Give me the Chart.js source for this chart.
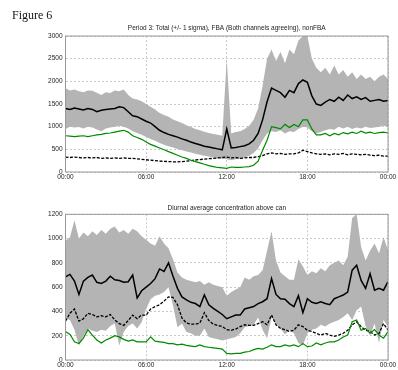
<!DOCTYPE html>
<html>
<head>
<meta charset="utf-8">
<script src="https://cdn.jsdelivr.net/npm/chart.js@4.4.1/dist/chart.umd.min.js"></script>
<style>
  body { margin: 0; background: #fff; }
  #wrap { position: relative; width: 398px; height: 370px; overflow: hidden; }
  #fig { position: absolute; left: 12px; top: 9px; font: 12px/1 "Liberation Serif", "Times New Roman", serif; color: #111; z-index: 2; }
  #c1 { position: absolute; left: 0; top: 0; }
  #c2 { position: absolute; left: 0; top: 190px; }
</style>
</head>
<body>
<div id="wrap">
  <div id="fig">Figure 6</div>
  <canvas id="c1" width="398" height="185"></canvas>
  <canvas id="c2" width="398" height="180"></canvas>
</div>
<script>
// time of day, one point every 20 minutes
const hours = Array.from({ length: 73 }, (_, i) => i / 3);
const hourTicks = ['00:00', '06:00', '12:00', '18:00', '00:00'];

// Period 3 (top panel)
const topTotal = [
  1400, 1380, 1410, 1390, 1370, 1400, 1380, 1330, 1360, 1380, 1390, 1400,
  1440, 1420, 1330, 1240, 1220, 1170, 1120, 1080, 1000, 920, 870, 830,
  800, 770, 730, 700, 660, 630, 600, 570, 550, 530, 510, 490,
  950, 530, 540, 560, 580, 620, 700, 850, 1150, 1550, 1850, 1800,
  1750, 1650, 1800, 1750, 1950, 2030, 1980, 1680, 1500, 1470, 1540, 1600,
  1560, 1650, 1580, 1700, 1620, 1660, 1600, 1640, 1560, 1580, 1600, 1560,
  1580
];
const topHi = [
  1850, 1800, 1820, 1780, 1760, 1800, 1790, 1750, 1700, 1760, 1740, 1800,
  1780, 1820, 1700, 1620, 1600, 1560, 1500, 1440, 1380, 1300, 1260, 1220,
  1160, 1120, 1080, 1030, 990, 950, 920, 890, 860, 840, 820, 800,
  2500, 850, 880, 900, 950, 1020, 1150, 1400, 1900, 2500, 2700, 2450,
  2650, 2400, 2700, 2600, 2900, 3000, 3000, 2500, 2300, 2200, 2300, 2150,
  2350, 2150, 2250, 2100, 2200, 2050, 2150, 2050, 2100, 2000, 2100, 2150,
  2050
];
const topLo = [
  950, 1000, 980, 990, 960, 1000, 980, 940, 900, 960, 980, 1000,
  1020, 1000, 960, 900, 860, 820, 770, 730, 690, 640, 600, 570,
  540, 510, 480, 450, 430, 400, 380, 360, 340, 320, 300, 290,
  280, 260, 280, 300, 320, 360, 420, 520, 700, 850, 900, 880,
  920, 850, 900, 880, 950, 1000, 980, 900, 850, 880, 920, 950,
  930, 1000, 960, 1000, 950, 980, 960, 1000, 970, 980, 1000, 1020,
  1000
];
const topFBA = [
  800, 790, 780, 790, 800, 780, 800, 820, 830, 850, 860, 880,
  900, 920, 880, 800, 760, 720, 660, 610, 570, 530, 490, 450,
  410, 370, 330, 300, 260, 230, 200, 170, 140, 120, 100, 90,
  80, 110, 100, 100, 110, 120, 150, 240, 480, 700, 1000, 980,
  950, 1050, 980, 1050, 1000, 1150, 1150, 950, 820, 820, 850, 800,
  850, 820, 870, 840, 880, 850, 900, 860, 880, 850, 870, 880,
  860
];
const topNon = [
  330, 320, 330, 320, 310, 320, 310, 320, 300, 310, 300, 310,
  300, 310, 300, 300, 290, 280, 270, 260, 250, 240, 235, 230,
  225, 225, 230, 240, 250, 265, 275, 285, 295, 300, 310, 320,
  330, 310, 320, 300, 310, 320, 320, 340, 360, 400, 420, 400,
  410, 390, 400, 400, 420, 480, 450, 420, 400, 390, 400, 380,
  400, 390, 410, 380, 400, 390, 380, 390, 370, 360, 370, 350,
  350
];

// Diurnal average above canopy (bottom panel)
const botTotal = [
  685, 705, 650, 540, 650, 680, 700, 640, 630, 650, 690, 660,
  655, 640, 645, 700, 510, 570, 600, 630, 670, 750, 730, 800,
  690, 590, 520, 495, 475, 465, 440, 535, 455, 425, 400, 375,
  340, 355, 370, 370, 420, 430, 440, 465, 480, 505, 670, 540,
  505, 500, 465, 440, 530, 390, 505, 475, 465, 480, 465, 455,
  505, 520, 535, 560, 740, 780, 655, 590, 710, 575, 590, 575,
  645
];
const botHi = [
  980, 1010, 1150, 1000, 1050, 1020, 1060, 1030, 1070, 1040, 1080, 1100,
  1050, 1070, 1040, 1080, 1060, 1020, 990, 960, 940, 1020, 960, 920,
  830, 720, 680, 660, 650, 640, 650, 620, 640, 620, 610, 600,
  530, 560, 580, 600, 680, 660, 690, 700, 740, 900, 1060, 820,
  720, 690, 660, 660, 830, 770, 700, 730, 715, 755, 730, 780,
  800, 820, 780, 850, 1170, 1200, 930, 820, 900, 960, 880, 1010,
  906
];
const botLo = [
  340, 330, 250, 120, 200, 260, 240, 230, 250, 240, 280, 300,
  120, 230, 280, 300, 260, 310, 420, 500, 530, 540, 560, 600,
  450, 270, 300, 230, 220, 200, 200, 260, 190, 180, 170, 160,
  170, 180, 190, 220, 270, 280, 290, 350, 250, 180, 350, 300,
  260, 210, 250, 220, 140, 120, 220, 250, 260, 290, 275, 300,
  315, 330, 355, 385, 330, 410, 440, 280, 200, 300, 140, 330,
  275
];
const botFBA = [
  235, 210, 150, 135, 180, 250, 205, 165, 140, 165, 180, 200,
  190, 170, 155, 165, 150, 150, 150, 190, 155, 150, 145, 135,
  135, 125, 130, 120, 115, 110, 125, 110, 105, 100, 95, 90,
  55, 50, 55, 55, 65, 70, 85, 95, 90, 105, 125, 110,
  110, 125, 115, 125, 110, 135, 110, 115, 140, 125, 140, 150,
  150, 165, 190, 205, 315, 330, 245, 260, 220, 250, 205, 180,
  233
];
const botNon = [
  320, 385, 420, 320, 340, 385, 375, 355, 365, 355, 375, 330,
  300, 285, 325, 370, 340, 370, 370, 420, 440, 455, 485, 520,
  515, 455, 345, 305, 295, 295, 305, 390, 325, 295, 285, 275,
  250, 245, 255, 275, 290, 285, 285, 300, 315, 290, 370, 290,
  260, 250, 235, 245, 290, 275, 245, 235, 220, 205, 220, 205,
  195, 205, 220, 245, 290, 315, 275, 245, 235, 205, 220, 300,
  247
];

Chart.defaults.font.family = '"Liberation Sans", Arial, sans-serif';
Chart.defaults.font.size = 6.5;
Chart.defaults.color = '#222';

const boxPlugin = {
  id: 'box',
  afterDraw(chart) {
    const a = chart.chartArea, ctx = chart.ctx;
    ctx.save();
    ctx.strokeStyle = '#999';
    ctx.lineWidth = 1;
    ctx.strokeRect(a.left, a.top, a.right - a.left, a.bottom - a.top);
    ctx.restore();
  }
};

function makeChart(id, title, titlePad, yMax, yStep, xHeight, total, hi, lo, fba, non) {
  return new Chart(document.getElementById(id), {
    type: 'line',
    data: {
      labels: hours,
      datasets: [
        { data: total, borderColor: '#000', borderWidth: 1.5 },
        { data: fba, borderColor: '#008a00', borderWidth: 1.2 },
        { data: non, borderColor: '#000', borderWidth: 1.3, borderDash: [3, 1.5] },
        { data: hi, borderWidth: 0, borderColor: 'rgba(0,0,0,0)', backgroundColor: '#b4b4b4', fill: '+1' },
        { data: lo, borderWidth: 0, borderColor: 'rgba(0,0,0,0)', fill: false }
      ]
    },
    options: {
      responsive: false,
      animation: false,
      layout: { padding: { left: 0, right: 10, top: 0, bottom: 0 } },
      elements: { point: { radius: 0 }, line: { tension: 0 } },
      plugins: {
        legend: { display: false },
        tooltip: { enabled: false },
        title: {
          display: true,
          text: title,
          fullSize: false,
          color: '#222',
          font: { size: 6.5, weight: 'normal', lineHeight: 1.2 },
          padding: titlePad
        }
      },
      scales: {
        x: {
          type: 'linear',
          min: 0,
          max: 24,
          ticks: {
            stepSize: 6,
            padding: 1,
            maxRotation: 0,
            callback: v => hourTicks[v / 6]
          },
          grid: { color: '#c8c8c8', drawTicks: false },
          border: { display: false, dash: [2, 2] },
          afterFit: s => { s.height = xHeight; }
        },
        y: {
          min: 0,
          max: yMax,
          ticks: { stepSize: yStep, padding: 3, callback: v => String(v) },
          grid: { color: '#c8c8c8', drawTicks: false },
          border: { display: false, dash: [2, 2] },
          afterFit: s => { s.width = 65.5; }
        }
      }
    },
    plugins: [boxPlugin]
  });
}

makeChart('c1', 'Period 3: Total (+/- 1 sigma), FBA (Both channels agreeing), nonFBA',
  { top: 24, bottom: 4.2 }, 3000, 500, 13, topTotal, topHi, topLo, topFBA, topNon);
makeChart('c2', 'Diurnal average concentration above can',
  { top: 14.4, bottom: 2.1 }, 1200, 200, 10, botTotal, botHi, botLo, botFBA, botNon);
</script>
</body>
</html>
